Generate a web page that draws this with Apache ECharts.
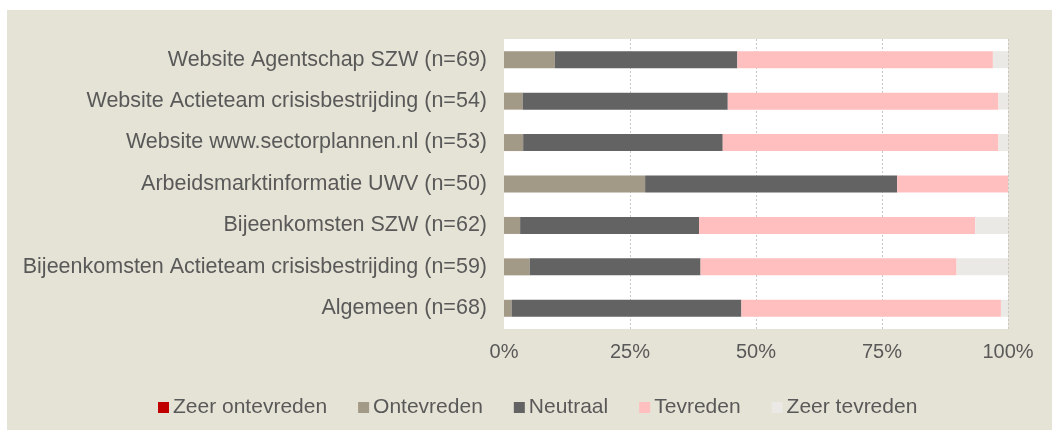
<!DOCTYPE html>
<html>
<head>
<meta charset="utf-8">
<script src="https://cdn.jsdelivr.net/npm/echarts@6/dist/echarts.min.js"></script>
<style>
  html, body { margin: 0; padding: 0; background: #ffffff; }
  #chart { position: absolute; left: 7px; top: 10px; width: 1045px; height: 420px; background: #e5e3d5; }
</style>
</head>
<body>
<div id="chart"></div>
<script>
// categories, top to bottom
var categories = [
    'Website Agentschap SZW (n=69)',
    'Website Actieteam crisisbestrijding (n=54)',
    'Website www.sectorplannen.nl (n=53)',
    'Arbeidsmarktinformatie UWV (n=50)',
    'Bijeenkomsten SZW (n=62)',
    'Bijeenkomsten Actieteam crisisbestrijding (n=59)',
    'Algemeen (n=68)'
]
var seriesNames = ['Zeer ontevreden', 'Ontevreden', 'Neutraal', 'Tevreden', 'Zeer tevreden']
// percentages per category
var zeerOntevreden = [0, 0, 0, 0, 0, 0, 0]
var ontevreden = [10.1, 3.7, 3.8, 28, 3.2, 5.1, 1.5]
var neutraal = [36.2, 40.7, 39.6, 50, 35.5, 33.9, 45.6]
var tevreden = [50.7, 53.7, 54.7, 22, 54.8, 50.8, 51.5]
var zeerTevreden = [3.0, 1.9, 1.9, 0, 6.5, 10.2, 1.4]
var tickValues = [0, 25, 50, 75, 100]

var colors = ['#c00000', '#a29a86', '#636363', '#ffbfbf', '#ebe9e5']
var allData = [zeerOntevreden, ontevreden, neutraal, tevreden, zeerTevreden]

var series = []
for (var i = 0; i < seriesNames.length; ++i) {
    series.push({
        name: seriesNames[i],
        type: 'bar',
        stack: 'total',
        barWidth: 17,
        itemStyle: { color: colors[i] },
        data: allData[i]
    })
}

var font = '"Liberation Sans", Arial, sans-serif'
var option = {
    animation: false,
    color: colors,
    textStyle: { fontFamily: font },
    legend: {
        left: 146,
        top: 382,
        itemWidth: 11,
        itemHeight: 11,
        itemGap: 31,
        icon: 'rect',
        textStyle: { color: '#595959', fontSize: 21, fontFamily: font, padding: [0, 0, 0, -1] },
        data: seriesNames
    },
    grid: {
        left: 497,
        right: 44,
        top: 29,
        bottom: 101,
        show: true,
        backgroundColor: '#ffffff',
        borderWidth: 0
    },
    xAxis: {
        type: 'value',
        min: 0,
        max: 100,
        interval: 25,
        axisLine: { show: false },
        axisTick: { show: false },
        axisLabel: {
            color: '#595959',
            fontSize: 20,
            fontFamily: font,
            margin: 13,
            formatter: function (v) { return tickValues.indexOf(v) >= 0 ? v + '%' : '' }
        },
        splitLine: {
            show: true,
            lineStyle: {
                type: [2, 2],
                width: 1,
                color: ['rgba(0,0,0,0)', '#c8c8c8', '#c8c8c8', '#c8c8c8', '#c8c8c8']
            }
        }
    },
    yAxis: {
        type: 'category',
        inverse: true,
        data: categories,
        axisLine: { show: false },
        axisTick: { show: false },
        axisLabel: {
            color: '#595959',
            fontSize: 21.5,
            fontFamily: font,
            margin: 17
        }
    },
    series: series
}

var chart = echarts.init(document.getElementById('chart'))
chart.setOption(option)
</script>
</body>
</html>
